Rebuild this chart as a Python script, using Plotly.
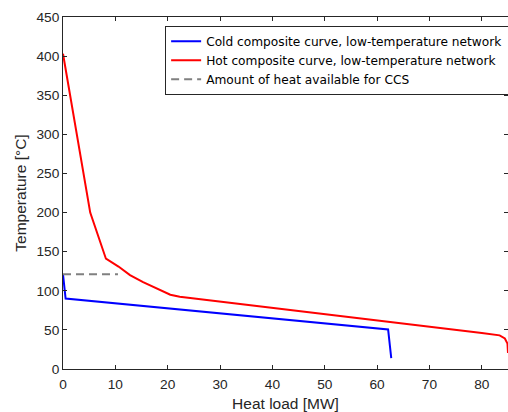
import plotly.graph_objects as go

hot_q = [0, 5.2, 8.2, 10.6, 12.8, 15.3, 20.5, 22.3, 80.0, 83.4, 84.4, 84.9, 85.0]
hot_t = [403, 200, 141, 131, 120, 111, 95, 92.5, 46, 43, 39, 32.5, 20.5]
cold_q = [0, 0.5, 62.1, 62.7]
cold_t = [121, 90, 50.5, 14]
ccs_q = [0, 10.5]
ccs_t = [121, 121]

names = ["Cold composite curve, low-temperature network",
         "Hot composite curve, low-temperature network",
         "Amount of heat available for CCS"]

fig = go.Figure()
fig.add_trace(go.Scatter(x=cold_q, y=cold_t, mode="lines", name=names[0],
                         line=dict(color="#0000ff", width=2)))
fig.add_trace(go.Scatter(x=hot_q, y=hot_t, mode="lines", name=names[1],
                         line=dict(color="#ff0000", width=2)))
fig.add_trace(go.Scatter(x=ccs_q, y=ccs_t, mode="lines", name=names[2],
                         line=dict(color="#808080", width=2, dash="8px,5px")))

axcol = "#262626"
fig.update_layout(
    width=508, height=412,
    margin=dict(l=63, r=0, t=17, b=43, autoexpand=False),
    paper_bgcolor="white", plot_bgcolor="white",
    font=dict(family="Liberation Sans, Arial, sans-serif", size=13.7, color=axcol),
    showlegend=True,
    legend=dict(x=0.2295, y=0.975, xanchor="left", yanchor="top",
                bgcolor="white", bordercolor=axcol, borderwidth=1,
                font=dict(family="DejaVu Sans, sans-serif", size=12.2, color="black"),
                tracegroupgap=0, itemwidth=30),
    xaxis=dict(range=[0, 85], tickvals=[0, 10, 20, 30, 40, 50, 60, 70, 80],
               ticks="inside", ticklen=4, tickcolor=axcol, showline=True,
               linecolor=axcol, linewidth=1, mirror="ticks", showgrid=False,
               zeroline=False, automargin=False, tickfont=dict(size=13.7),
               ticklabelstandoff=3,
               title=dict(text="Heat load [MW]", font=dict(size=15.5), standoff=8)),
    yaxis=dict(range=[0, 450], tickvals=list(range(0, 451, 50)),
               ticks="inside", ticklen=4, tickcolor=axcol, showline=True,
               linecolor=axcol, linewidth=1, mirror="ticks", showgrid=False,
               zeroline=False, automargin=False, tickfont=dict(size=13.7),
               title=dict(text="Temperature [°C]", font=dict(size=15.5), standoff=5)),
)
fig.write_html("out.html", config={"displayModeBar": False},
               post_script="document.body.style.margin='0';document.body.style.overflow='hidden';")
